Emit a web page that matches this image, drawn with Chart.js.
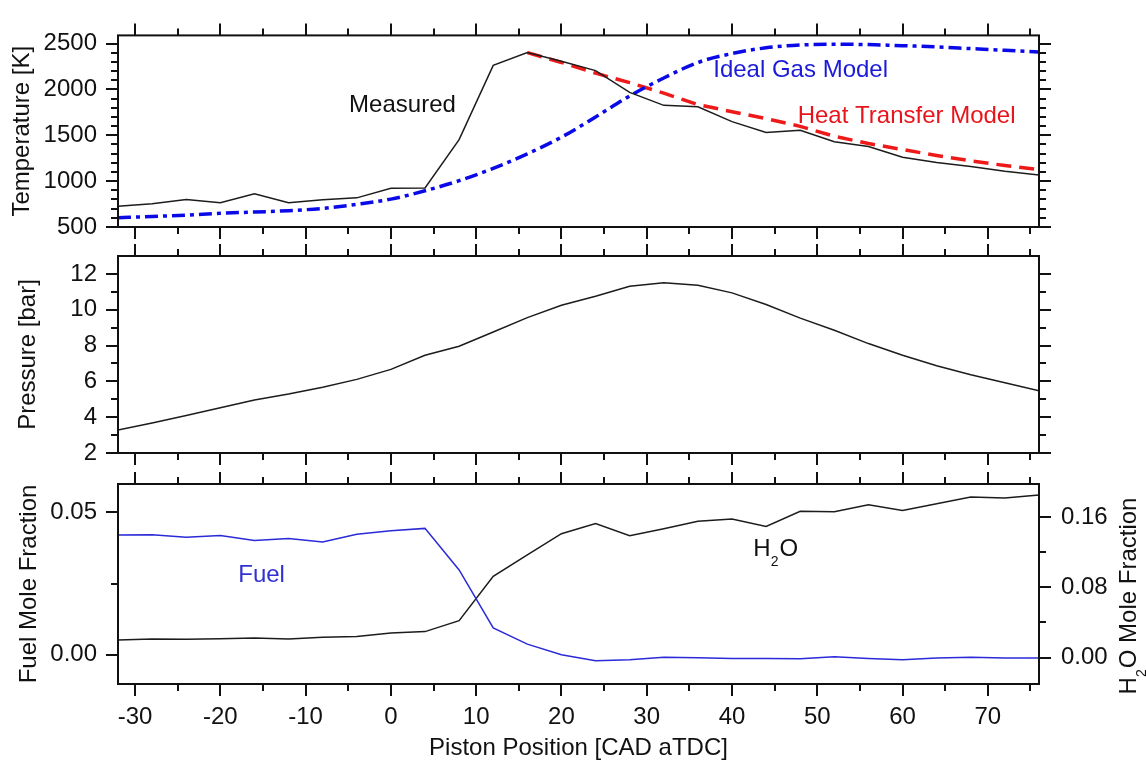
<!DOCTYPE html>
<html>
<head>
<meta charset="utf-8">
<script src="https://cdn.jsdelivr.net/npm/chart.js@4.4.1/dist/chart.umd.min.js"></script>
<style>
html,body{margin:0;padding:0;background:#fff;}
#wrap{position:relative;width:1146px;height:763px;overflow:hidden;background:#fff;}
#wrap canvas{position:absolute;left:0;top:0;}
</style>
</head>
<body>
<div id="wrap">
<canvas id="c1" width="1146" height="763"></canvas>
<canvas id="c2" width="1146" height="763"></canvas>
<canvas id="c3" width="1146" height="763"></canvas>
</div>
<script>
// ---------- data ----------
const crankAngle = [-32,-28,-24,-20,-16,-12,-8,-4,0,4,8,12,16,20,24,28,32,36,40,44,48,52,56,60,64,68,72,76];
const tempMeasured = [727,754,801,764,862,764,798,818,923,926,1453,2263,2402,2307,2206,1969,1827,1811,1649,1530,1554,1429,1379,1260,1203,1159,1108,1068];
const tempIdealGas = [602,615,630,649,663,678,703,747,804,895,1005,1140,1298,1480,1700,1930,2125,2295,2392,2455,2485,2494,2490,2478,2464,2446,2428,2408];
const tempHeatTransfer = [null,null,null,null,null,null,null,null,null,null,null,null,2402,2295,2178,2075,1960,1835,1758,1683,1598,1490,1410,1345,1280,1222,1170,1125];
const pressure = [3.29,3.67,4.09,4.53,4.96,5.29,5.67,6.11,6.67,7.46,7.96,8.76,9.56,10.25,10.75,11.31,11.5,11.37,10.94,10.29,9.53,8.85,8.11,7.46,6.87,6.37,5.92,5.48];
const fuelFraction = [0.0421,0.0422,0.0413,0.0419,0.0401,0.0408,0.0396,0.0423,0.0436,0.0444,0.0298,0.0094,0.0037,0.0000,-0.0021,-0.0018,-0.0009,-0.0011,-0.0013,-0.0013,-0.0014,-0.0007,-0.0013,-0.0018,-0.0012,-0.0009,-0.0012,-0.0012];
const h2oFraction = [0.0201,0.0212,0.0208,0.0216,0.0224,0.0212,0.0231,0.0239,0.0281,0.0296,0.0421,0.0925,0.117,0.141,0.1524,0.1387,0.1467,0.155,0.1577,0.1493,0.1664,0.166,0.174,0.1675,0.1751,0.1827,0.1816,0.185];

// ---------- tick positions ----------
const xMajorTicks = [-30,-20,-10,0,10,20,30,40,50,60,70];
const xMinorTicks = [-25,-15,-5,5,15,25,35,45,55,65,75];
const tempMajorTicks = [500,1000,1500,2000,2500];
const tempMinorTicks = [600,700,800,900,1100,1200,1300,1400,1600,1700,1800,1900,2100,2200,2300,2400];
const pressMajorTicks = [2,4,6,8,10,12];
const pressMinorTicks = [3,5,7,9,11];
const fuelMajorTicks = [0,0.05];
const fuelMinorTicks = [0.025];
const h2oMajorTicks = [0,0.08,0.16];
const h2oMinorTicks = [0.04,0.12];

// axis ranges
const X_MIN = -32, X_MAX = 76;
const T_MIN = 500, T_MAX = 2590;
const P_MIN = 2, P_MAX = 13;
const F_MIN = -0.0103, F_MAX = 0.06;
const W_MIN = -0.03, W_MAX = 0.1975;

// ---------- styling ----------
const FONT = "'Liberation Sans', Arial, Helvetica, sans-serif";
const FS = 24;
const INK = '#111111';
const LEFT_W = 118, RIGHT_W = 107;

const pts = arr => crankAngle.map((x, i) => ({x: x, y: arr[i]}));

function xScale(show) {
  return {
    type: 'linear', min: X_MIN, max: X_MAX, display: show,
    grid: {display: false, drawTicks: false}, border: {display: false},
    ticks: {padding: 19, autoSkip: false, maxRotation: 0, minRotation: 0,
      font: {family: FONT, size: FS}, color: INK, callback: v => String(Math.round(v))},
    afterBuildTicks: s => { s.ticks = xMajorTicks.map(v => ({value: v})); },
    title: {display: show, text: 'Piston Position [CAD aTDC]', font: {family: FONT, size: FS}, color: INK, padding: {top: 0, bottom: 0}},
    afterFit: s => { s.height = show ? 79 : 0; }
  };
}
function yScale(min, max, majors, title, titlePad, fmt, pos) {
  return {
    type: 'linear', position: pos || 'left', min: min, max: max,
    grid: {display: false, drawTicks: false}, border: {display: false},
    ticks: {padding: pos === 'right' ? 22 : 21, autoSkip: false,
      font: {family: FONT, size: FS}, color: INK, callback: fmt},
    afterBuildTicks: s => { s.ticks = majors.map(v => ({value: v})); },
    title: {display: !!title, text: title || '', font: {family: FONT, size: FS}, color: INK, padding: {top: titlePad, bottom: 0}},
    afterFit: s => { s.width = pos === 'right' ? RIGHT_W : LEFT_W; }
  };
}

function frameTicks(cfg) {
  return {
    id: 'frameTicks',
    afterDraw(chart) {
      const {ctx, chartArea: a, scales} = chart;
      const xs = scales.x;
      const MAJ = 12, MIN = 7;
      ctx.save();
      ctx.strokeStyle = INK; ctx.lineWidth = 2; ctx.lineCap = 'butt';
      const line = (x1, y1, x2, y2) => { ctx.beginPath(); ctx.moveTo(x1, y1); ctx.lineTo(x2, y2); ctx.stroke(); };
      ctx.strokeRect(a.left, a.top, a.right - a.left, a.bottom - a.top);
      xMajorTicks.forEach(v => { const p = Math.round(xs.getPixelForValue(v)); line(p, a.bottom, p, a.bottom + MAJ); line(p, a.top, p, a.top - MAJ); });
      xMinorTicks.forEach(v => { const p = Math.round(xs.getPixelForValue(v)); line(p, a.bottom, p, a.bottom + MIN); line(p, a.top, p, a.top - MIN); });
      const L = scales[cfg.left.id];
      cfg.left.major.forEach(v => { const p = Math.round(L.getPixelForValue(v)); line(a.left, p, a.left - MAJ, p); });
      cfg.left.minor.forEach(v => { const p = Math.round(L.getPixelForValue(v)); line(a.left, p, a.left - MIN, p); });
      const R = scales[cfg.right.id];
      cfg.right.major.forEach(v => { const p = Math.round(R.getPixelForValue(v)); line(a.right, p, a.right + MAJ, p); });
      cfg.right.minor.forEach(v => { const p = Math.round(R.getPixelForValue(v)); line(a.right, p, a.right + MIN, p); });
      ctx.restore();
    }
  };
}

function textPlugin(items, extra) {
  return {
    id: 'labels',
    afterDraw(chart) {
      const ctx = chart.ctx;
      ctx.save();
      ctx.textBaseline = 'alphabetic'; ctx.textAlign = 'left';
      items.forEach(it => {
        const x = chart.scales.x.getPixelForValue(it.x);
        const y = chart.scales[it.axis].getPixelForValue(it.y);
        ctx.fillStyle = it.color;
        ctx.font = FS + 'px ' + FONT;
        if (it.h2o) { drawH2O(ctx, x, y, ''); }
        else ctx.fillText(it.text, x, y);
      });
      if (extra) extra(chart);
      ctx.restore();
    }
  };
}

function drawH2O(ctx, x, y, rest) {
  ctx.font = FS + 'px ' + FONT;
  ctx.fillText('H', x, y);
  let cx = x + ctx.measureText('H').width;
  ctx.font = '14px ' + FONT;
  ctx.fillText('2', cx, y + 10);
  cx += ctx.measureText('2').width + 1;
  ctx.font = FS + 'px ' + FONT;
  ctx.fillText('O' + rest, cx, y);
}
function h2oWidth(ctx, rest) {
  ctx.font = FS + 'px ' + FONT;
  let w = ctx.measureText('H').width + ctx.measureText('O' + rest).width;
  ctx.font = '14px ' + FONT;
  w += ctx.measureText('2').width + 1;
  return w;
}

const common = {
  responsive: false, animation: false, devicePixelRatio: 1, events: [],
  plugins: {legend: {display: false}, tooltip: {enabled: false}}
};

// ---------- panel 1: temperature ----------
new Chart(document.getElementById('c1'), {
  type: 'line',
  data: {datasets: [
    {label: 'Measured', data: pts(tempMeasured), borderColor: '#1c1c1c', borderWidth: 1.5, pointRadius: 0, tension: 0},
    {label: 'Ideal Gas Model', data: pts(tempIdealGas), borderColor: '#0a0ae8', borderWidth: 3.5, borderDash: [13, 5, 4, 5], pointRadius: 0, cubicInterpolationMode: 'monotone'},
    {label: 'Heat Transfer Model', data: pts(tempHeatTransfer), borderColor: '#ee1a1a', borderWidth: 3.5, borderDash: [15, 8], pointRadius: 0, tension: 0}
  ]},
  options: Object.assign({}, common, {
    layout: {padding: {top: 21, bottom: 763 - 227, left: 0, right: RIGHT_W}},
    scales: {
      x: xScale(false),
      y: yScale(T_MIN, T_MAX, tempMajorTicks, 'Temperature [K]', 8, v => String(Math.round(v)))
    }
  }),
  plugins: [
    frameTicks({left: {id: 'y', major: tempMajorTicks, minor: tempMinorTicks}, right: {id: 'y', major: tempMajorTicks, minor: tempMinorTicks}}),
    textPlugin([
      {text: 'Measured', x: -4.9, y: 1750, axis: 'y', color: '#111111'},
      {text: 'Ideal Gas Model', x: 37.8, y: 2131, axis: 'y', color: '#1a1ad8'},
      {text: 'Heat Transfer Model', x: 47.7, y: 1632, axis: 'y', color: '#e8141c'}
    ])
  ]
});

// ---------- panel 2: pressure ----------
new Chart(document.getElementById('c2'), {
  type: 'line',
  data: {datasets: [
    {label: 'Pressure', data: pts(pressure), borderColor: '#1c1c1c', borderWidth: 1.5, pointRadius: 0, tension: 0}
  ]},
  options: Object.assign({}, common, {
    layout: {padding: {top: 256, bottom: 763 - 453, left: 0, right: RIGHT_W}},
    scales: {
      x: xScale(false),
      y: yScale(P_MIN, P_MAX, pressMajorTicks, 'Pressure [bar]', 14, v => String(Math.round(v)))
    }
  }),
  plugins: [
    frameTicks({left: {id: 'y', major: pressMajorTicks, minor: pressMinorTicks}, right: {id: 'y', major: pressMajorTicks, minor: pressMinorTicks}})
  ]
});

// ---------- panel 3: mole fractions ----------
const fmt2 = v => (Math.abs(v) < 1e-9 ? 0 : v).toFixed(2);
new Chart(document.getElementById('c3'), {
  type: 'line',
  data: {datasets: [
    {label: 'Fuel', data: pts(fuelFraction), yAxisID: 'y', borderColor: '#2a2ad8', borderWidth: 1.5, pointRadius: 0, tension: 0},
    {label: 'H2O', data: pts(h2oFraction), yAxisID: 'y2', borderColor: '#1c1c1c', borderWidth: 1.5, pointRadius: 0, tension: 0}
  ]},
  options: Object.assign({}, common, {
    layout: {padding: {top: 484, bottom: 0, left: 0, right: 0}},
    scales: {
      x: xScale(true),
      y: yScale(F_MIN, F_MAX, fuelMajorTicks, 'Fuel Mole Fraction', 15, fmt2),
      y2: yScale(W_MIN, W_MAX, h2oMajorTicks, null, 0, fmt2, 'right')
    }
  }),
  plugins: [
    frameTicks({left: {id: 'y', major: fuelMajorTicks, minor: fuelMinorTicks}, right: {id: 'y2', major: h2oMajorTicks, minor: h2oMinorTicks}}),
    textPlugin([
      {text: 'Fuel', x: -17.9, y: 0.0257, axis: 'y', color: '#3030d4'},
      {h2o: true, x: 42.5, y: 0.1152, axis: 'y2', color: '#111111'}
    ], chart => {
      const ctx = chart.ctx;
      const a = chart.chartArea;
      const rest = ' Mole Fraction';
      ctx.save();
      ctx.fillStyle = INK;
      ctx.textBaseline = 'alphabetic'; ctx.textAlign = 'left';
      ctx.translate(a.right + 97, (a.top + a.bottom) / 2 + 12);
      ctx.rotate(-Math.PI / 2);
      const w = h2oWidth(ctx, rest);
      drawH2O(ctx, -w / 2, 0, rest);
      ctx.restore();
    })
  ]
});
</script>
</body>
</html>
